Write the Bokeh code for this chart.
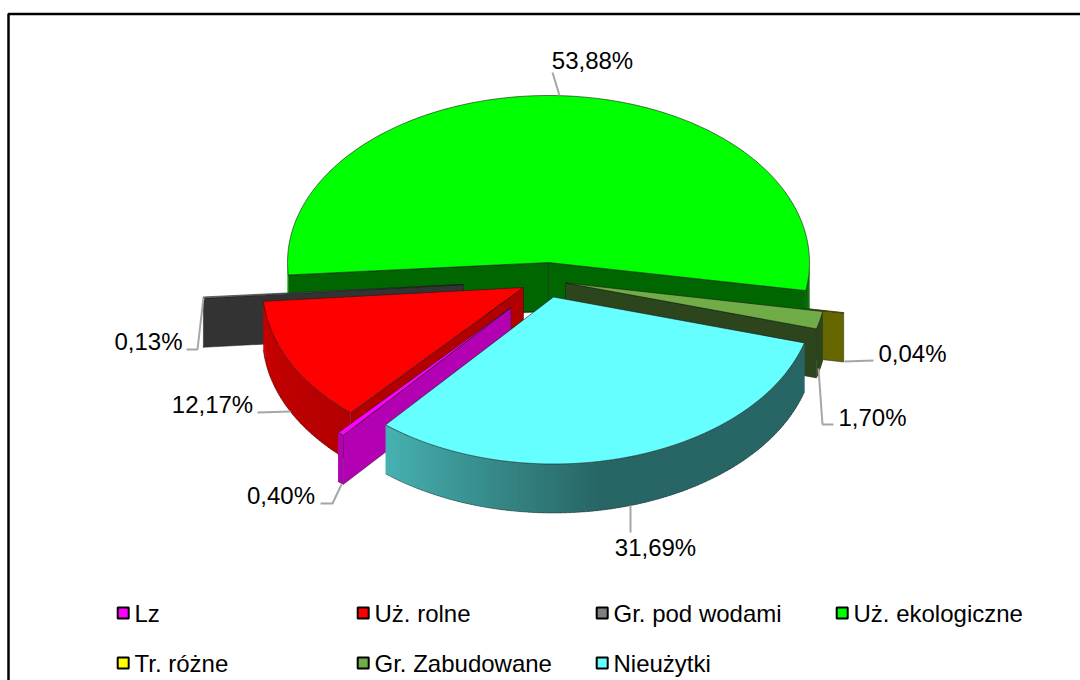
import math
from bokeh.plotting import figure
from bokeh.core.properties import value
from bokeh.embed import file_html
from bokeh.resources import INLINE

# --- data ---
names = ["Lz", "Uż. rolne", "Gr. pod wodami", "Uż. ekologiczne", "Tr. różne", "Gr. Zabudowane", "Nieużytki"]
shares = [0.40, 12.17, 0.13, 53.88, 0.04, 1.70, 31.69]
labels = ["0,40%", "12,17%", "0,13%", "53,88%", "0,04%", "1,70%", "31,69%"]
colors = ["#ff00ff", "#ff0000", "#808080", "#00ff00", "#ffff00", "#70ad47", "#66ffff"]

# --- layout of the exploded pie (page pixels) ---
W, H = 1080, 680
RX, RY, DEPTH = 261, 167, 49
FIRST_ANGLE = 130.0  # clockwise from east
centers = [(510.5, 307), (523, 287), (463, 284), (548, 262), (586, 284), (565, 282.5), (553, 296.5)]
draw_order = [4, 3, 2, 5, 1, 0, 6]
label_pos = [(592, 60), (148, 341), (212, 404), (280.5, 495), (912, 353), (872, 417), (655, 547)]
label_idx = [3, 2, 1, 0, 4, 5, 6]
leaders = [
    [(320, 503), (332, 503), (341, 484)],
    [(257, 412), (290, 411)],
    [(186, 349), (197, 349), (203, 297)],
    [(552, 72), (559, 95)],
    [(844, 361), (873, 360)],
    [(818, 368), (822, 424), (833, 424)],
    [(630, 505), (630, 532)],
]
legend_pos = [(116, 612.5), (356, 612.5), (595, 612.5), (835, 612.5),
              (116, 662.5), (356, 662.5), (595, 662.5)]

FS = "24px"
FONT = "Liberation Sans"
EDGE = "#1a1a1a"

p = figure(width=W, height=H, x_range=(0, W), y_range=(H, 0),
           output_backend="svg", toolbar_location=None, min_border=0)
p.axis.visible = False
p.grid.visible = False
p.outline_line_color = None
p.background_fill_color = "white"
p.border_fill_color = "white"


def shade(hex_color, f):
    r, g, b = (int(hex_color[i:i + 2], 16) for i in (1, 3, 5))
    return "#%02x%02x%02x" % (int(r * f), int(g * f), int(b * f))


def rim_factor(t):
    t %= 360
    if t < 80:
        return 0.4
    if t < 130:
        return 0.4 + 0.3 * (t - 80) / 50
    return 0.7 + 0.1 * (t - 130) / 50


def pt(c, t, dz=0):
    r = math.radians(t)
    return c[0] + RX * math.cos(r), c[1] + RY * math.sin(r) + dz


def arc(c, t0, t1, dz=0, step=1.0):
    n = max(1, int(math.ceil(abs(t1 - t0) / step)))
    return [pt(c, t0 + (t1 - t0) * i / n, dz) for i in range(n + 1)]


def poly(points, fill, edge=None, width=0.7, alpha=1.0):
    xs = [q[0] for q in points]
    ys = [q[1] for q in points]
    if edge:
        p.patch(xs, ys, fill_color=fill, line_color=edge, line_width=width, line_alpha=alpha)
    else:
        p.patch(xs, ys, fill_color=fill, line_color=None)


# slice angles from the shares
spans = []
a0 = FIRST_ANGLE
for s in shares:
    a1 = a0 + s * 3.6
    spans.append((a0, a1))
    a0 = a1

for i in draw_order:
    c, col = centers[i], colors[i]
    t0, t1 = spans[i]
    # side walls that face the viewer
    for t, normal in ((t0, t0 - 90), (t1, t1 + 90)):
        if math.sin(math.radians(normal)) > 0:
            f = 0.7 if (normal % 360) < 60 else 0.4
            wall = [c, pt(c, t), pt(c, t, DEPTH), (c[0], c[1] + DEPTH)]
            poly(wall, shade(col, f), EDGE, 0.6, 0.8)
    # outer rim, in overlapping strips for the lighting
    lower = []
    for k in range(int(math.floor(t0)), int(math.ceil(t1))):
        a = max(t0, k)
        b = min(t1, k + 1)
        if b > a and math.sin(math.radians((a + b) / 2)) > 0:
            b2 = min(t1, b + 0.7)
            poly([pt(c, a), pt(c, b2), pt(c, b2, DEPTH), pt(c, a, DEPTH)],
                 shade(col, rim_factor((a + b) / 2)))
            lower.append(pt(c, a, DEPTH))
            lower.append(pt(c, b, DEPTH))
    if lower:
        p.line([q[0] for q in lower], [q[1] for q in lower],
               line_color=EDGE, line_width=0.6, line_alpha=0.7)
    # top surface
    poly([c] + arc(c, t0, t1), col, EDGE, 0.7, 0.85)

# leader lines
for pts in leaders:
    p.line([q[0] for q in pts], [q[1] for q in pts], line_color="#a6a6a6", line_width=2)

# value labels
p.text([q[0] for q in label_pos], [q[1] for q in label_pos], text=[labels[j] for j in label_idx],
       text_font=value(FONT), text_font_size=value(FS), text_color="#000000",
       text_align="center", text_baseline="middle")

# legend
for idx in range(len(names)):
    x, y = legend_pos[idx]
    p.rect([x + 6.7], [y], width=11, height=11, fill_color=colors[idx],
           line_color="#000000", line_width=2)
    p.text([x + 18], [y], text=[names[idx]], text_font=value(FONT), text_font_size=value(FS),
           text_color="#000000", text_align="left", text_baseline="middle")

# chart border (it runs on past the right and bottom of the window)
p.line([8, 8, W], [H, 13.5, 13.5], line_color="#000000", line_width=2.5)

open("out.html", "w").write(file_html(p, INLINE))
